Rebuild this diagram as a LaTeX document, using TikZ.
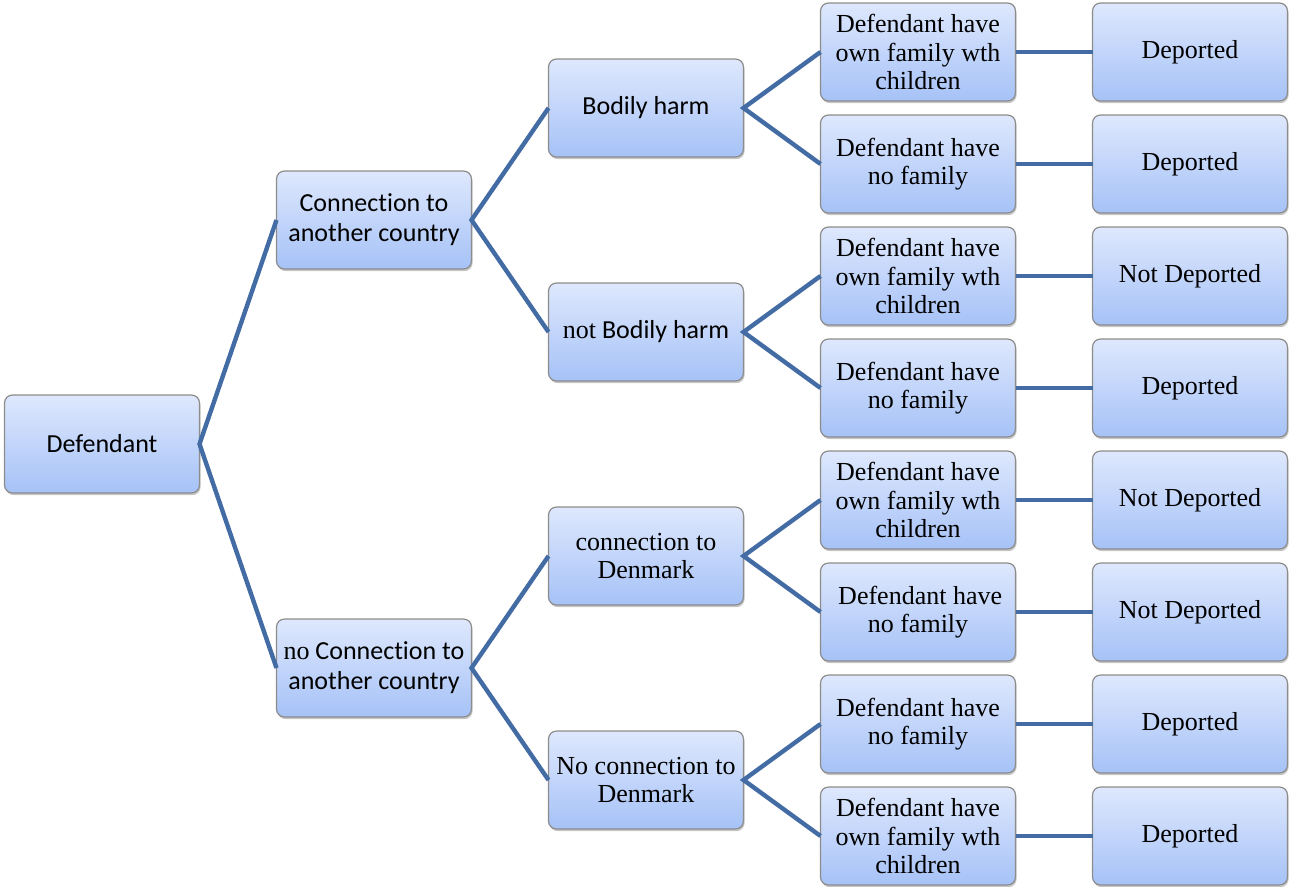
\documentclass[tikz,border=0pt]{standalone}
\usepackage{fontspec}
\setmainfont{Liberation Serif}
\newfontfamily\calibri[Ligatures=NoCommon]{Carlito}
\usepackage{tikz}
\usetikzlibrary{positioning, calc, shadows}

\definecolor{boxtop}{RGB}{222,232,253}
\definecolor{boxbot}{RGB}{166,194,247}
\definecolor{boxline}{RGB}{140,140,140}
\definecolor{wire}{RGB}{68,108,164}

\begin{document}
\begin{tikzpicture}[
  x=0.75pt, y=-0.75pt,
  node distance=10.5pt and 57.75pt,
  box/.style  = {draw=boxline, line width=0.9pt, rounded corners=6pt,
                 top color=boxtop, bottom color=boxbot,
                 minimum width=146.25pt, minimum height=73.5pt,
                 inner sep=2pt, outer sep=0pt, align=center,
                 font=\fontsize{19.5}{21.5}\selectfont,
                 drop shadow={shadow xshift=0.8pt, shadow yshift=-1.6pt,
                              fill=black, opacity=0.22}},
  sbox/.style = {box, font=\calibri\fontsize{19.5}{22.5}\selectfont},
  link/.style = {draw=wire, line width=3.3pt},
]
  \useasboundingbox (0,0) rectangle (1289,886);

  % family column, top to bottom
  \node[box]                (f1) at (918,52) {Defendant have\\own family wth\\children};
  \node[box, below=of f1]   (f2) {Defendant have\\no family};
  \node[box, below=of f2]   (f3) {Defendant have\\own family wth\\children};
  \node[box, below=of f3]   (f4) {Defendant have\\no family};
  \node[box, below=of f4]   (f5) {Defendant have\\own family wth\\children};
  \node[box, below=of f5]   (f6) {\,Defendant have\\no family};
  \node[box, below=of f6]   (f7) {Defendant have\\no family};
  \node[box, below=of f7]   (f8) {Defendant have\\own family wth\\children};

  % verdicts
  \node[box, right=of f1]   (v1) {Deported};
  \node[box, right=of f2]   (v2) {Deported};
  \node[box, right=of f3]   (v3) {Not Deported};
  \node[box, right=of f4]   (v4) {Deported};
  \node[box, right=of f5]   (v5) {Not Deported};
  \node[box, right=of f6]   (v6) {Not Deported};
  \node[box, right=of f7]   (v7) {Deported};
  \node[box, right=of f8]   (v8) {Deported};

  % offence / tie column
  \coordinate (m12) at ($(f1.west)!0.5!(f2.west)$);
  \coordinate (m34) at ($(f3.west)!0.5!(f4.west)$);
  \coordinate (m56) at ($(f5.west)!0.5!(f6.west)$);
  \coordinate (m78) at ($(f7.west)!0.5!(f8.west)$);
  \node[sbox, left=of m12]  (bh)  {Bodily harm};
  \node[sbox, left=of m34]  (nbh) {{\rmfamily not} Bodily harm};
  \node[box,  left=of m56]  (cd)  {connection to\\Denmark};
  \node[box,  left=of m78]  (ncd) {No connection to\\Denmark};

  % connection column
  \coordinate (mb) at ($(bh.west)!0.5!(nbh.west)$);
  \coordinate (mc) at ($(cd.west)!0.5!(ncd.west)$);
  \node[sbox, left=of mb]   (con)   {Connection to\\another country};
  \node[sbox, left=of mc]   (nocon) {{\rmfamily no} Connection to\\another country};

  % root
  \coordinate (mr) at ($(con.west)!0.5!(nocon.west)$);
  \node[sbox, left=of mr]   (def) {Defendant};

  \draw[link] (con.west) -- (def.east) -- (nocon.west);
  \draw[link] (bh.west) -- (con.east) -- (nbh.west);
  \draw[link] (cd.west) -- (nocon.east) -- (ncd.west);
  \draw[link] (f1.west) -- (bh.east) -- (f2.west);
  \draw[link] (f3.west) -- (nbh.east) -- (f4.west);
  \draw[link] (f5.west) -- (cd.east) -- (f6.west);
  \draw[link] (f7.west) -- (ncd.east) -- (f8.west);
  \draw[link] (f1) -- (v1);
  \draw[link] (f2) -- (v2);
  \draw[link] (f3) -- (v3);
  \draw[link] (f4) -- (v4);
  \draw[link] (f5) -- (v5);
  \draw[link] (f6) -- (v6);
  \draw[link] (f7) -- (v7);
  \draw[link] (f8) -- (v8);
\end{tikzpicture}
\end{document}
